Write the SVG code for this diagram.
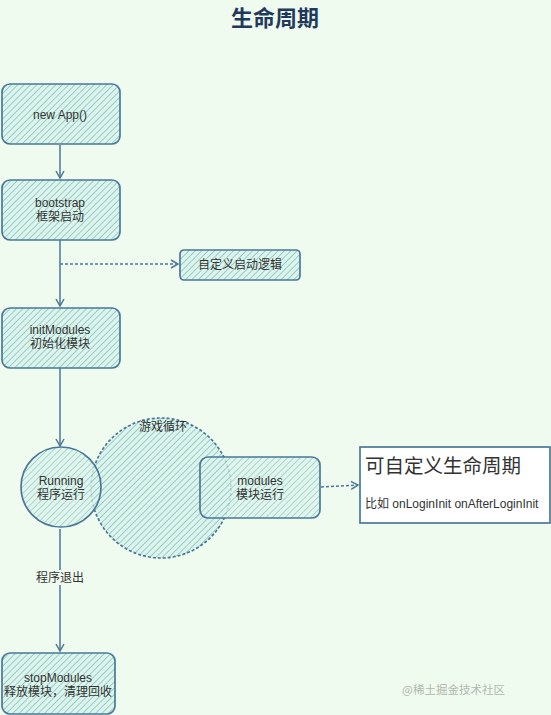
<svg xmlns="http://www.w3.org/2000/svg" width="551" height="715" viewBox="0 0 551 715">
<defs>
<pattern id="hatch" patternUnits="userSpaceOnUse" width="4.5" height="4.5" patternTransform="rotate(45)">
<rect width="4.5" height="4.5" fill="#def3ec"/>
<line x1="0" y1="0" x2="0" y2="4.5" stroke="#8ccdc4" stroke-width="1.8"/>
</pattern>
<marker id="arr" markerWidth="10" markerHeight="10" refX="8" refY="5" orient="auto" markerUnits="userSpaceOnUse">
<path d="M1,1 L8,5 L1,9" fill="none" stroke="#4a7898" stroke-width="1.5"/>
</marker>
</defs>
<style>
.node{fill:url(#hatch);stroke:#4a7898;stroke-width:1.7}
.t{font-family:"Liberation Sans","Noto Sans CJK SC",sans-serif;font-size:12px;fill:#333;text-anchor:middle}
.edge{stroke:#4a7898;stroke-width:1.5;fill:none}
.dash{stroke-dasharray:3,2}
</style>
<rect width="551" height="715" fill="#f0fbef"/>
<text x="275" y="26" style="font-family:'Noto Sans CJK SC',sans-serif;font-size:22px;font-weight:bold;fill:#1f3a5c" text-anchor="middle">生命周期</text>

<g id="connectors">
<line class="edge" x1="60" y1="145" x2="60" y2="178" marker-end="url(#arr)"/>
<line class="edge" x1="60" y1="240" x2="60" y2="306" marker-end="url(#arr)"/>
<line class="edge dash" x1="60" y1="264" x2="178" y2="264" marker-end="url(#arr)"/>
<line class="edge" x1="60" y1="368" x2="60" y2="446" marker-end="url(#arr)"/>
<line class="edge dash" x1="321" y1="487" x2="358" y2="485" marker-end="url(#arr)"/>
<line class="edge" x1="60" y1="529" x2="60" y2="651" marker-end="url(#arr)"/>
<rect x="35" y="570" width="50" height="15" fill="#f0fbef"/>
<text class="t" x="60" y="582">程序退出</text>
</g>

<g id="newApp">
<rect class="node" x="2" y="84" width="118" height="60" rx="8"/>
<text class="t" x="60" y="119">new App()</text>
</g>
<g id="bootstrap">
<rect class="node" x="2" y="180" width="118" height="60" rx="8"/>
<text class="t" x="60" y="207">bootstrap</text>
<text class="t" x="60" y="221">框架启动</text>
</g>
<g id="customBoot">
<rect class="node" x="180" y="250" width="120" height="30" rx="4"/>
<text class="t" x="240" y="269">自定义启动逻辑</text>
</g>
<g id="initModules">
<rect class="node" x="2" y="308" width="118" height="60" rx="8"/>
<text class="t" x="60" y="334">initModules</text>
<text class="t" x="60" y="348">初始化模块</text>
</g>
<g id="gameLoop">
<circle class="node" cx="161" cy="488" r="70" stroke-dasharray="3,2"/>
<text class="t" x="163" y="431">游戏循环</text>
</g>
<g id="running">
<circle class="node" cx="61" cy="487" r="40" fill-opacity="0.8"/>
<text class="t" x="61" y="485">Running</text>
<text class="t" x="61" y="499">程序运行</text>
</g>
<g id="modules">
<rect class="node" x="200" y="457" width="120" height="61" rx="8" fill-opacity="0.8"/>
<text class="t" x="260" y="485">modules</text>
<text class="t" x="260" y="499">模块运行</text>
</g>
<g id="customLife">
<rect x="360" y="447" width="190" height="76" fill="#ffffff" stroke="#4a7898" stroke-width="1.7"/>
<text x="365" y="473" style="font-family:'Noto Sans CJK SC',sans-serif;font-size:19.5px;fill:#333">可自定义生命周期</text>
<text x="365" y="508" style="font-family:'Liberation Sans','Noto Sans CJK SC',sans-serif;font-size:12px;fill:#333">比如 onLoginInit onAfterLoginInit</text>
</g>
<g id="stopModules">
<rect class="node" x="2" y="653" width="113" height="61" rx="8"/>
<text class="t" x="58" y="682">stopModules</text>
<text class="t" x="58" y="696">释放模块，清理回收</text>
</g>
<text x="505" y="694" text-anchor="end" style="font-family:'Noto Sans CJK SC',sans-serif;font-size:11.5px;fill:#b0b8b0">@稀土掘金技术社区</text>
</svg>
